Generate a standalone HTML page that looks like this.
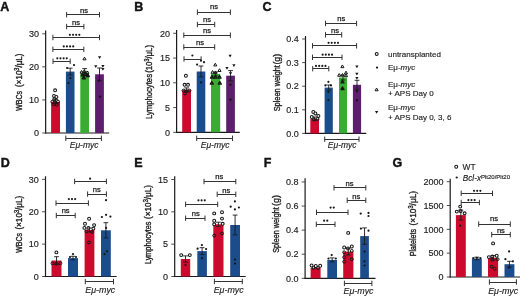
<!DOCTYPE html><html><head><meta charset="utf-8"><style>html,body{margin:0;padding:0;background:#fff;}svg{display:block;will-change:transform;}</style></head><body>
<svg width="520" height="297" viewBox="0 0 520 297" font-family='"Liberation Sans", sans-serif'><style>text{stroke:#1c1c1c;stroke-width:0.15px;paint-order:stroke;}</style>
<rect width="520" height="297" fill="#fff"/>
<text x="0.30" y="11.00" font-size="12.5" text-anchor="start" font-weight="bold" font-style="normal" fill="#111" style="stroke:#111;stroke-width:0.4px">A</text>
<line x1="45.65" y1="30.50" x2="45.65" y2="133.60" stroke="#1a1a1a" stroke-width="1.2"/>
<line x1="42.25" y1="133.00" x2="45.65" y2="133.00" stroke="#3a3a3a" stroke-width="0.9"/>
<text x="38.95" y="136.24" font-size="9" text-anchor="end" font-weight="normal" font-style="normal" fill="#1c1c1c" >0</text>
<line x1="42.25" y1="99.93" x2="45.65" y2="99.93" stroke="#3a3a3a" stroke-width="0.9"/>
<text x="38.95" y="103.17" font-size="9" text-anchor="end" font-weight="normal" font-style="normal" fill="#1c1c1c" >10</text>
<line x1="42.25" y1="66.86" x2="45.65" y2="66.86" stroke="#3a3a3a" stroke-width="0.9"/>
<text x="38.95" y="70.10" font-size="9" text-anchor="end" font-weight="normal" font-style="normal" fill="#1c1c1c" >20</text>
<line x1="42.25" y1="33.79" x2="45.65" y2="33.79" stroke="#3a3a3a" stroke-width="0.9"/>
<text x="38.95" y="37.03" font-size="9" text-anchor="end" font-weight="normal" font-style="normal" fill="#1c1c1c" >30</text>
<line x1="45.05" y1="133.00" x2="109.20" y2="133.00" stroke="#1a1a1a" stroke-width="1.2"/>
<rect x="51.10" y="101.70" width="8.90" height="31.30" fill="#cc0a2e"/>
<rect x="65.90" y="71.60" width="8.60" height="61.40" fill="#1b4d8d"/>
<rect x="80.30" y="71.40" width="8.70" height="61.60" fill="#3aab33"/>
<rect x="95.10" y="74.30" width="8.80" height="58.70" fill="#5c1e6d"/>
<circle cx="55.10" cy="90.30" r="1.45" fill="#fff" stroke="#151515" stroke-width="1.05"/>
<circle cx="54.00" cy="95.90" r="1.45" fill="#fff" stroke="#151515" stroke-width="1.05"/>
<circle cx="56.40" cy="96.90" r="1.45" fill="#fff" stroke="#151515" stroke-width="1.05"/>
<circle cx="54.20" cy="99.40" r="1.45" fill="#fff" stroke="#151515" stroke-width="1.05"/>
<circle cx="52.30" cy="101.80" r="1.45" fill="none" stroke="#151515" stroke-width="1.0"/>
<circle cx="55.20" cy="102.30" r="1.45" fill="none" stroke="#151515" stroke-width="1.0"/>
<circle cx="58.00" cy="101.60" r="1.45" fill="none" stroke="#151515" stroke-width="1.0"/>
<circle cx="53.60" cy="104.30" r="1.45" fill="none" stroke="#151515" stroke-width="1.0"/>
<circle cx="56.60" cy="104.80" r="1.45" fill="none" stroke="#151515" stroke-width="1.0"/>
<circle cx="74.00" cy="65.10" r="1.1" fill="#151515"/>
<circle cx="67.10" cy="68.00" r="1.1" fill="#151515"/>
<circle cx="70.30" cy="78.00" r="1.1" fill="#151515"/>
<circle cx="68.50" cy="83.00" r="1.1" fill="#151515"/>
<path d="M82.95,59.85 L86.05,59.85 L84.50,57.15 Z" fill="#fff" stroke="#151515" stroke-width="1.0" stroke-linejoin="round"/>
<path d="M80.05,73.15 L83.15,73.15 L81.60,70.45 Z" fill="#fff" stroke="#151515" stroke-width="1.0" stroke-linejoin="round"/>
<path d="M82.75,72.45 L85.85,72.45 L84.30,69.75 Z" fill="#fff" stroke="#151515" stroke-width="1.0" stroke-linejoin="round"/>
<path d="M85.65,73.65 L88.75,73.65 L87.20,70.95 Z" fill="#fff" stroke="#151515" stroke-width="1.0" stroke-linejoin="round"/>
<path d="M81.05,75.95 L84.15,75.95 L82.60,73.25 Z" fill="none" stroke="#151515" stroke-width="1.25" stroke-linejoin="round"/>
<path d="M84.05,75.45 L87.15,75.45 L85.60,72.75 Z" fill="none" stroke="#151515" stroke-width="1.25" stroke-linejoin="round"/>
<path d="M86.25,76.65 L89.35,76.65 L87.80,73.95 Z" fill="none" stroke="#151515" stroke-width="1.25" stroke-linejoin="round"/>
<path d="M82.25,78.75 L85.35,78.75 L83.80,76.05 Z" fill="none" stroke="#151515" stroke-width="1.25" stroke-linejoin="round"/>
<path d="M98.00,56.15 L101.20,56.15 L99.60,58.90 Z" fill="#151515"/>
<path d="M94.20,65.15 L97.40,65.15 L95.80,67.90 Z" fill="#151515"/>
<path d="M101.30,64.95 L104.50,64.95 L102.90,67.70 Z" fill="#151515"/>
<path d="M101.30,67.95 L104.50,67.95 L102.90,70.70 Z" fill="#151515"/>
<path d="M97.40,79.85 L100.60,79.85 L99.00,82.60 Z" fill="#151515"/>
<path d="M98.30,95.75 L101.50,95.75 L99.90,98.50 Z" fill="#151515"/>
<line x1="55.55" y1="103.80" x2="55.55" y2="99.60" stroke="#1a1a1a" stroke-width="0.9"/>
<line x1="53.15" y1="99.60" x2="57.95" y2="99.60" stroke="#1a1a1a" stroke-width="0.9"/>
<line x1="53.15" y1="103.80" x2="57.95" y2="103.80" stroke="#1a1a1a" stroke-width="0.8"/>
<line x1="70.20" y1="75.00" x2="70.20" y2="68.20" stroke="#1a1a1a" stroke-width="0.9"/>
<line x1="67.80" y1="68.20" x2="72.60" y2="68.20" stroke="#1a1a1a" stroke-width="0.9"/>
<line x1="67.80" y1="75.00" x2="72.60" y2="75.00" stroke="#1a1a1a" stroke-width="0.8"/>
<line x1="84.65" y1="74.20" x2="84.65" y2="68.60" stroke="#1a1a1a" stroke-width="0.9"/>
<line x1="82.25" y1="68.60" x2="87.05" y2="68.60" stroke="#1a1a1a" stroke-width="0.9"/>
<line x1="82.25" y1="74.20" x2="87.05" y2="74.20" stroke="#1a1a1a" stroke-width="0.8"/>
<line x1="99.50" y1="80.60" x2="99.50" y2="68.00" stroke="#1a1a1a" stroke-width="0.9"/>
<line x1="97.10" y1="68.00" x2="101.90" y2="68.00" stroke="#1a1a1a" stroke-width="0.9"/>
<line x1="97.10" y1="80.60" x2="101.90" y2="80.60" stroke="#1a1a1a" stroke-width="0.8"/>
<line x1="66.60" y1="14.50" x2="99.50" y2="14.50" stroke="#333333" stroke-width="1.0"/>
<line x1="66.60" y1="12.00" x2="66.60" y2="17.40" stroke="#333333" stroke-width="1.0"/>
<line x1="99.50" y1="12.00" x2="99.50" y2="17.40" stroke="#333333" stroke-width="1.0"/>
<text x="84.00" y="12.70" font-size="7.2" text-anchor="middle" font-weight="normal" font-style="normal" fill="#1c1c1c" textLength="8.0" lengthAdjust="spacingAndGlyphs" style="stroke-width:0.25px">ns</text>
<line x1="66.60" y1="26.50" x2="83.90" y2="26.50" stroke="#333333" stroke-width="1.0"/>
<line x1="66.60" y1="23.90" x2="66.60" y2="29.30" stroke="#333333" stroke-width="1.0"/>
<line x1="83.90" y1="23.90" x2="83.90" y2="29.30" stroke="#333333" stroke-width="1.0"/>
<text x="76.00" y="24.80" font-size="7.2" text-anchor="middle" font-weight="normal" font-style="normal" fill="#1c1c1c" textLength="8.0" lengthAdjust="spacingAndGlyphs" style="stroke-width:0.25px">ns</text>
<line x1="52.90" y1="37.50" x2="99.50" y2="37.50" stroke="#333333" stroke-width="1.0"/>
<line x1="52.90" y1="34.80" x2="52.90" y2="40.20" stroke="#333333" stroke-width="1.0"/>
<line x1="99.50" y1="34.80" x2="99.50" y2="40.20" stroke="#333333" stroke-width="1.0"/>
<circle cx="69.88" cy="34.80" r="1.08" fill="#1c1c1c"/>
<circle cx="73.03" cy="34.80" r="1.08" fill="#1c1c1c"/>
<circle cx="76.17" cy="34.80" r="1.08" fill="#1c1c1c"/>
<circle cx="79.33" cy="34.80" r="1.08" fill="#1c1c1c"/>
<line x1="52.90" y1="49.50" x2="83.80" y2="49.50" stroke="#333333" stroke-width="1.0"/>
<line x1="52.90" y1="46.60" x2="52.90" y2="52.00" stroke="#333333" stroke-width="1.0"/>
<line x1="83.80" y1="46.60" x2="83.80" y2="52.00" stroke="#333333" stroke-width="1.0"/>
<circle cx="63.77" cy="46.40" r="1.08" fill="#1c1c1c"/>
<circle cx="66.92" cy="46.40" r="1.08" fill="#1c1c1c"/>
<circle cx="70.08" cy="46.40" r="1.08" fill="#1c1c1c"/>
<circle cx="73.22" cy="46.40" r="1.08" fill="#1c1c1c"/>
<line x1="53.00" y1="61.50" x2="70.20" y2="61.50" stroke="#333333" stroke-width="1.0"/>
<line x1="53.00" y1="58.60" x2="53.00" y2="64.00" stroke="#333333" stroke-width="1.0"/>
<line x1="70.20" y1="58.60" x2="70.20" y2="64.00" stroke="#333333" stroke-width="1.0"/>
<circle cx="57.32" cy="58.30" r="1.08" fill="#1c1c1c"/>
<circle cx="60.47" cy="58.30" r="1.08" fill="#1c1c1c"/>
<circle cx="63.62" cy="58.30" r="1.08" fill="#1c1c1c"/>
<circle cx="66.77" cy="58.30" r="1.08" fill="#1c1c1c"/>
<line x1="65.80" y1="138.50" x2="101.40" y2="138.50" stroke="#333333" stroke-width="1.0"/>
<line x1="65.80" y1="135.60" x2="65.80" y2="141.00" stroke="#333333" stroke-width="1.0"/>
<line x1="101.40" y1="135.60" x2="101.40" y2="141.00" stroke="#333333" stroke-width="1.0"/>
<text x="84.10" y="148.00" font-size="8.5" text-anchor="middle" font-weight="normal" font-style="italic" fill="#1c1c1c" >E<tspan>μ</tspan>-myc</text>
<text x="0" y="0" font-size="9.2" font-weight="normal" style="stroke-width:0.35px" fill="#1c1c1c" textLength="19.70" lengthAdjust="spacingAndGlyphs" transform="translate(22.40,110.80) rotate(-90)">WBCs</text>
<text x="0" y="0" font-size="9.2" font-weight="normal" style="stroke-width:0.35px" fill="#1c1c1c" textLength="33.30" lengthAdjust="spacingAndGlyphs" transform="translate(22.40,86.90) rotate(-90)">(×10<tspan dy="-3.2" font-size="6.4">3</tspan><tspan dy="3.2">/μL)</tspan></text>
<text x="134.30" y="11.00" font-size="12.5" text-anchor="start" font-weight="bold" font-style="normal" fill="#111" style="stroke:#111;stroke-width:0.4px">B</text>
<line x1="176.60" y1="30.00" x2="176.60" y2="132.90" stroke="#1a1a1a" stroke-width="1.2"/>
<line x1="173.20" y1="132.30" x2="176.60" y2="132.30" stroke="#3a3a3a" stroke-width="0.9"/>
<text x="169.90" y="135.54" font-size="9" text-anchor="end" font-weight="normal" font-style="normal" fill="#1c1c1c" >0</text>
<line x1="173.20" y1="107.55" x2="176.60" y2="107.55" stroke="#3a3a3a" stroke-width="0.9"/>
<text x="169.90" y="110.79" font-size="9" text-anchor="end" font-weight="normal" font-style="normal" fill="#1c1c1c" >5</text>
<line x1="173.20" y1="82.80" x2="176.60" y2="82.80" stroke="#3a3a3a" stroke-width="0.9"/>
<text x="169.90" y="86.04" font-size="9" text-anchor="end" font-weight="normal" font-style="normal" fill="#1c1c1c" >10</text>
<line x1="173.20" y1="58.05" x2="176.60" y2="58.05" stroke="#3a3a3a" stroke-width="0.9"/>
<text x="169.90" y="61.29" font-size="9" text-anchor="end" font-weight="normal" font-style="normal" fill="#1c1c1c" >15</text>
<line x1="173.20" y1="33.30" x2="176.60" y2="33.30" stroke="#3a3a3a" stroke-width="0.9"/>
<text x="169.90" y="36.54" font-size="9" text-anchor="end" font-weight="normal" font-style="normal" fill="#1c1c1c" >20</text>
<line x1="176.00" y1="132.30" x2="239.80" y2="132.30" stroke="#1a1a1a" stroke-width="1.2"/>
<rect x="182.20" y="89.70" width="8.80" height="42.60" fill="#cc0a2e"/>
<rect x="196.70" y="71.50" width="8.60" height="60.80" fill="#1b4d8d"/>
<rect x="211.00" y="73.90" width="9.20" height="58.40" fill="#3aab33"/>
<rect x="226.20" y="75.70" width="8.70" height="56.60" fill="#5c1e6d"/>
<circle cx="185.90" cy="75.70" r="1.45" fill="#fff" stroke="#151515" stroke-width="1.05"/>
<circle cx="184.60" cy="84.80" r="1.45" fill="#fff" stroke="#151515" stroke-width="1.05"/>
<circle cx="188.00" cy="84.80" r="1.45" fill="#fff" stroke="#151515" stroke-width="1.05"/>
<circle cx="183.50" cy="90.60" r="1.45" fill="none" stroke="#151515" stroke-width="1.0"/>
<circle cx="186.50" cy="91.20" r="1.45" fill="none" stroke="#151515" stroke-width="1.0"/>
<circle cx="189.50" cy="90.60" r="1.45" fill="none" stroke="#151515" stroke-width="1.0"/>
<circle cx="185.00" cy="93.50" r="1.45" fill="none" stroke="#151515" stroke-width="1.0"/>
<circle cx="197.10" cy="64.60" r="1.1" fill="#151515"/>
<circle cx="204.00" cy="62.20" r="1.1" fill="#151515"/>
<circle cx="201.00" cy="60.60" r="1.1" fill="#151515"/>
<circle cx="201.00" cy="82.40" r="1.1" fill="#151515"/>
<path d="M213.75,65.95 L216.85,65.95 L215.30,63.25 Z" fill="#fff" stroke="#151515" stroke-width="1.0" stroke-linejoin="round"/>
<path d="M210.95,73.25 L214.05,73.25 L212.50,70.55 Z" fill="#fff" stroke="#151515" stroke-width="1.0" stroke-linejoin="round"/>
<path d="M213.95,73.65 L217.05,73.65 L215.50,70.95 Z" fill="#fff" stroke="#151515" stroke-width="1.0" stroke-linejoin="round"/>
<path d="M217.95,71.45 L221.05,71.45 L219.50,68.75 Z" fill="#fff" stroke="#151515" stroke-width="1.0" stroke-linejoin="round"/>
<path d="M210.45,78.15 L213.55,78.15 L212.00,75.45 Z" fill="none" stroke="#151515" stroke-width="1.25" stroke-linejoin="round"/>
<path d="M213.95,78.15 L217.05,78.15 L215.50,75.45 Z" fill="none" stroke="#151515" stroke-width="1.25" stroke-linejoin="round"/>
<path d="M217.95,78.15 L221.05,78.15 L219.50,75.45 Z" fill="none" stroke="#151515" stroke-width="1.25" stroke-linejoin="round"/>
<path d="M210.25,84.15 L213.35,84.15 L211.80,81.45 Z" fill="none" stroke="#151515" stroke-width="1.25" stroke-linejoin="round"/>
<path d="M218.25,84.15 L221.35,84.15 L219.80,81.45 Z" fill="none" stroke="#151515" stroke-width="1.25" stroke-linejoin="round"/>
<path d="M228.50,54.65 L231.70,54.65 L230.10,57.40 Z" fill="#151515"/>
<path d="M232.30,64.25 L235.50,64.25 L233.90,67.00 Z" fill="#151515"/>
<path d="M225.40,67.05 L228.60,67.05 L227.00,69.80 Z" fill="#151515"/>
<path d="M228.90,72.15 L232.10,72.15 L230.50,74.90 Z" fill="#151515"/>
<path d="M228.90,83.65 L232.10,83.65 L230.50,86.40 Z" fill="#151515"/>
<path d="M228.90,98.85 L232.10,98.85 L230.50,101.60 Z" fill="#151515"/>
<line x1="186.60" y1="91.50" x2="186.60" y2="87.90" stroke="#1a1a1a" stroke-width="0.9"/>
<line x1="184.20" y1="87.90" x2="189.00" y2="87.90" stroke="#1a1a1a" stroke-width="0.9"/>
<line x1="184.20" y1="91.50" x2="189.00" y2="91.50" stroke="#1a1a1a" stroke-width="0.8"/>
<line x1="201.00" y1="77.00" x2="201.00" y2="66.00" stroke="#1a1a1a" stroke-width="0.9"/>
<line x1="198.60" y1="66.00" x2="203.40" y2="66.00" stroke="#1a1a1a" stroke-width="0.9"/>
<line x1="198.60" y1="77.00" x2="203.40" y2="77.00" stroke="#1a1a1a" stroke-width="0.8"/>
<line x1="215.60" y1="75.80" x2="215.60" y2="72.00" stroke="#1a1a1a" stroke-width="0.9"/>
<line x1="213.20" y1="72.00" x2="218.00" y2="72.00" stroke="#1a1a1a" stroke-width="0.9"/>
<line x1="213.20" y1="75.80" x2="218.00" y2="75.80" stroke="#1a1a1a" stroke-width="0.8"/>
<line x1="230.55" y1="80.80" x2="230.55" y2="70.60" stroke="#1a1a1a" stroke-width="0.9"/>
<line x1="228.15" y1="70.60" x2="232.95" y2="70.60" stroke="#1a1a1a" stroke-width="0.9"/>
<line x1="228.15" y1="80.80" x2="232.95" y2="80.80" stroke="#1a1a1a" stroke-width="0.8"/>
<line x1="197.40" y1="12.50" x2="230.40" y2="12.50" stroke="#333333" stroke-width="1.0"/>
<line x1="197.40" y1="9.50" x2="197.40" y2="14.90" stroke="#333333" stroke-width="1.0"/>
<line x1="230.40" y1="9.50" x2="230.40" y2="14.90" stroke="#333333" stroke-width="1.0"/>
<text x="214.00" y="9.20" font-size="7.2" text-anchor="middle" font-weight="normal" font-style="normal" fill="#1c1c1c" textLength="8.0" lengthAdjust="spacingAndGlyphs" style="stroke-width:0.25px">ns</text>
<line x1="197.40" y1="24.50" x2="214.70" y2="24.50" stroke="#333333" stroke-width="1.0"/>
<line x1="197.40" y1="21.80" x2="197.40" y2="27.20" stroke="#333333" stroke-width="1.0"/>
<line x1="214.70" y1="21.80" x2="214.70" y2="27.20" stroke="#333333" stroke-width="1.0"/>
<text x="207.00" y="22.10" font-size="7.2" text-anchor="middle" font-weight="normal" font-style="normal" fill="#1c1c1c" textLength="8.0" lengthAdjust="spacingAndGlyphs" style="stroke-width:0.25px">ns</text>
<line x1="183.80" y1="35.50" x2="230.40" y2="35.50" stroke="#333333" stroke-width="1.0"/>
<line x1="183.80" y1="32.50" x2="183.80" y2="37.90" stroke="#333333" stroke-width="1.0"/>
<line x1="230.40" y1="32.50" x2="230.40" y2="37.90" stroke="#333333" stroke-width="1.0"/>
<text x="207.10" y="33.40" font-size="7.2" text-anchor="middle" font-weight="normal" font-style="normal" fill="#1c1c1c" textLength="8.0" lengthAdjust="spacingAndGlyphs" style="stroke-width:0.25px">ns</text>
<line x1="183.80" y1="47.50" x2="214.70" y2="47.50" stroke="#333333" stroke-width="1.0"/>
<line x1="183.80" y1="44.30" x2="183.80" y2="49.70" stroke="#333333" stroke-width="1.0"/>
<line x1="214.70" y1="44.30" x2="214.70" y2="49.70" stroke="#333333" stroke-width="1.0"/>
<text x="200.00" y="44.50" font-size="7.2" text-anchor="middle" font-weight="normal" font-style="normal" fill="#1c1c1c" textLength="8.0" lengthAdjust="spacingAndGlyphs" style="stroke-width:0.25px">ns</text>
<line x1="184.00" y1="59.50" x2="201.10" y2="59.50" stroke="#333333" stroke-width="1.0"/>
<line x1="184.00" y1="56.30" x2="184.00" y2="61.70" stroke="#333333" stroke-width="1.0"/>
<line x1="201.10" y1="56.30" x2="201.10" y2="61.70" stroke="#333333" stroke-width="1.0"/>
<circle cx="192.40" cy="55.50" r="1.08" fill="#1c1c1c"/>
<line x1="196.70" y1="138.50" x2="232.50" y2="138.50" stroke="#333333" stroke-width="1.0"/>
<line x1="196.70" y1="135.60" x2="196.70" y2="141.00" stroke="#333333" stroke-width="1.0"/>
<line x1="232.50" y1="135.60" x2="232.50" y2="141.00" stroke="#333333" stroke-width="1.0"/>
<text x="215.10" y="148.00" font-size="8.5" text-anchor="middle" font-weight="normal" font-style="italic" fill="#1c1c1c" >E<tspan>μ</tspan>-myc</text>
<text x="0" y="0" font-size="9.2" font-weight="normal" style="stroke-width:0.35px" fill="#1c1c1c" textLength="45.10" lengthAdjust="spacingAndGlyphs" transform="translate(152.20,119.10) rotate(-90)">Lymphocytes</text>
<text x="0" y="0" font-size="9.2" font-weight="normal" style="stroke-width:0.35px" fill="#1c1c1c" textLength="27.80" lengthAdjust="spacingAndGlyphs" transform="translate(152.20,72.80) rotate(-90)">(10<tspan dy="-3.2" font-size="6.4">3</tspan><tspan dy="3.2">/μL)</tspan></text>
<text x="262.60" y="11.20" font-size="12.5" text-anchor="start" font-weight="bold" font-style="normal" fill="#111" style="stroke:#111;stroke-width:0.4px">C</text>
<line x1="305.50" y1="36.00" x2="305.50" y2="134.00" stroke="#1a1a1a" stroke-width="1.2"/>
<line x1="302.10" y1="133.40" x2="305.50" y2="133.40" stroke="#3a3a3a" stroke-width="0.9"/>
<text x="298.80" y="136.64" font-size="9" text-anchor="end" font-weight="normal" font-style="normal" fill="#1c1c1c" >0.0</text>
<line x1="302.10" y1="109.80" x2="305.50" y2="109.80" stroke="#3a3a3a" stroke-width="0.9"/>
<text x="298.80" y="113.04" font-size="9" text-anchor="end" font-weight="normal" font-style="normal" fill="#1c1c1c" >0.1</text>
<line x1="302.10" y1="86.20" x2="305.50" y2="86.20" stroke="#3a3a3a" stroke-width="0.9"/>
<text x="298.80" y="89.44" font-size="9" text-anchor="end" font-weight="normal" font-style="normal" fill="#1c1c1c" >0.2</text>
<line x1="302.10" y1="62.60" x2="305.50" y2="62.60" stroke="#3a3a3a" stroke-width="0.9"/>
<text x="298.80" y="65.84" font-size="9" text-anchor="end" font-weight="normal" font-style="normal" fill="#1c1c1c" >0.3</text>
<line x1="302.10" y1="39.00" x2="305.50" y2="39.00" stroke="#3a3a3a" stroke-width="0.9"/>
<text x="298.80" y="42.24" font-size="9" text-anchor="end" font-weight="normal" font-style="normal" fill="#1c1c1c" >0.4</text>
<line x1="304.90" y1="133.40" x2="366.30" y2="133.40" stroke="#1a1a1a" stroke-width="1.2"/>
<rect x="310.30" y="118.80" width="8.70" height="14.60" fill="#cc0a2e"/>
<rect x="324.60" y="87.60" width="8.20" height="45.80" fill="#1b4d8d"/>
<rect x="339.00" y="77.50" width="8.00" height="55.90" fill="#3aab33"/>
<rect x="352.90" y="84.80" width="8.20" height="48.60" fill="#5c1e6d"/>
<circle cx="313.30" cy="112.00" r="1.45" fill="#fff" stroke="#151515" stroke-width="1.05"/>
<circle cx="315.40" cy="113.40" r="1.45" fill="#fff" stroke="#151515" stroke-width="1.05"/>
<circle cx="318.40" cy="115.90" r="1.45" fill="#fff" stroke="#151515" stroke-width="1.05"/>
<circle cx="311.80" cy="117.00" r="1.45" fill="#fff" stroke="#151515" stroke-width="1.05"/>
<circle cx="314.00" cy="119.50" r="1.45" fill="none" stroke="#151515" stroke-width="1.0"/>
<circle cx="317.50" cy="119.00" r="1.45" fill="none" stroke="#151515" stroke-width="1.0"/>
<circle cx="328.40" cy="81.80" r="1.1" fill="#151515"/>
<circle cx="325.40" cy="85.40" r="1.1" fill="#151515"/>
<circle cx="331.00" cy="85.40" r="1.1" fill="#151515"/>
<circle cx="328.40" cy="92.00" r="1.1" fill="#151515"/>
<circle cx="328.40" cy="100.00" r="1.1" fill="#151515"/>
<path d="M340.85,67.65 L343.95,67.65 L342.40,64.95 Z" fill="#fff" stroke="#151515" stroke-width="1.0" stroke-linejoin="round"/>
<path d="M344.45,73.85 L347.55,73.85 L346.00,71.15 Z" fill="#fff" stroke="#151515" stroke-width="1.0" stroke-linejoin="round"/>
<path d="M337.65,76.25 L340.75,76.25 L339.20,73.55 Z" fill="#fff" stroke="#151515" stroke-width="1.0" stroke-linejoin="round"/>
<path d="M340.95,76.15 L344.05,76.15 L342.50,73.45 Z" fill="#fff" stroke="#151515" stroke-width="1.0" stroke-linejoin="round"/>
<path d="M344.45,76.65 L347.55,76.65 L346.00,73.95 Z" fill="#fff" stroke="#151515" stroke-width="1.0" stroke-linejoin="round"/>
<path d="M340.95,82.95 L344.05,82.95 L342.50,80.25 Z" fill="none" stroke="#151515" stroke-width="1.25" stroke-linejoin="round"/>
<path d="M340.95,89.55 L344.05,89.55 L342.50,86.85 Z" fill="none" stroke="#151515" stroke-width="1.25" stroke-linejoin="round"/>
<path d="M355.30,65.45 L358.50,65.45 L356.90,68.20 Z" fill="#151515"/>
<path d="M355.30,72.75 L358.50,72.75 L356.90,75.50 Z" fill="#151515"/>
<path d="M355.30,76.95 L358.50,76.95 L356.90,79.70 Z" fill="#151515"/>
<path d="M355.30,90.35 L358.50,90.35 L356.90,93.10 Z" fill="#151515"/>
<path d="M355.30,99.35 L358.50,99.35 L356.90,102.10 Z" fill="#151515"/>
<line x1="314.65" y1="120.60" x2="314.65" y2="117.00" stroke="#1a1a1a" stroke-width="0.9"/>
<line x1="312.25" y1="117.00" x2="317.05" y2="117.00" stroke="#1a1a1a" stroke-width="0.9"/>
<line x1="312.25" y1="120.60" x2="317.05" y2="120.60" stroke="#1a1a1a" stroke-width="0.8"/>
<line x1="328.70" y1="90.20" x2="328.70" y2="85.00" stroke="#1a1a1a" stroke-width="0.9"/>
<line x1="326.30" y1="85.00" x2="331.10" y2="85.00" stroke="#1a1a1a" stroke-width="0.9"/>
<line x1="326.30" y1="90.20" x2="331.10" y2="90.20" stroke="#1a1a1a" stroke-width="0.8"/>
<line x1="343.00" y1="80.00" x2="343.00" y2="75.00" stroke="#1a1a1a" stroke-width="0.9"/>
<line x1="340.60" y1="75.00" x2="345.40" y2="75.00" stroke="#1a1a1a" stroke-width="0.9"/>
<line x1="340.60" y1="80.00" x2="345.40" y2="80.00" stroke="#1a1a1a" stroke-width="0.8"/>
<line x1="357.00" y1="89.30" x2="357.00" y2="80.30" stroke="#1a1a1a" stroke-width="0.9"/>
<line x1="354.60" y1="80.30" x2="359.40" y2="80.30" stroke="#1a1a1a" stroke-width="0.9"/>
<line x1="354.60" y1="89.30" x2="359.40" y2="89.30" stroke="#1a1a1a" stroke-width="0.8"/>
<line x1="325.50" y1="23.50" x2="356.60" y2="23.50" stroke="#333333" stroke-width="1.0"/>
<line x1="325.50" y1="20.80" x2="325.50" y2="26.20" stroke="#333333" stroke-width="1.0"/>
<line x1="356.60" y1="20.80" x2="356.60" y2="26.20" stroke="#333333" stroke-width="1.0"/>
<text x="341.25" y="21.00" font-size="7.2" text-anchor="middle" font-weight="normal" font-style="normal" fill="#1c1c1c" textLength="8.0" lengthAdjust="spacingAndGlyphs" style="stroke-width:0.25px">ns</text>
<line x1="325.50" y1="34.50" x2="341.70" y2="34.50" stroke="#333333" stroke-width="1.0"/>
<line x1="325.50" y1="32.10" x2="325.50" y2="37.50" stroke="#333333" stroke-width="1.0"/>
<line x1="341.70" y1="32.10" x2="341.70" y2="37.50" stroke="#333333" stroke-width="1.0"/>
<text x="335.05" y="32.90" font-size="7.2" text-anchor="middle" font-weight="normal" font-style="normal" fill="#1c1c1c" textLength="8.0" lengthAdjust="spacingAndGlyphs" style="stroke-width:0.25px">ns</text>
<line x1="312.50" y1="45.50" x2="356.60" y2="45.50" stroke="#333333" stroke-width="1.0"/>
<line x1="312.50" y1="43.10" x2="312.50" y2="48.50" stroke="#333333" stroke-width="1.0"/>
<line x1="356.60" y1="43.10" x2="356.60" y2="48.50" stroke="#333333" stroke-width="1.0"/>
<circle cx="328.57" cy="42.80" r="1.08" fill="#1c1c1c"/>
<circle cx="331.72" cy="42.80" r="1.08" fill="#1c1c1c"/>
<circle cx="334.88" cy="42.80" r="1.08" fill="#1c1c1c"/>
<circle cx="338.02" cy="42.80" r="1.08" fill="#1c1c1c"/>
<line x1="312.50" y1="57.50" x2="342.00" y2="57.50" stroke="#333333" stroke-width="1.0"/>
<line x1="312.50" y1="54.60" x2="312.50" y2="60.00" stroke="#333333" stroke-width="1.0"/>
<line x1="342.00" y1="54.60" x2="342.00" y2="60.00" stroke="#333333" stroke-width="1.0"/>
<circle cx="322.62" cy="54.70" r="1.08" fill="#1c1c1c"/>
<circle cx="325.77" cy="54.70" r="1.08" fill="#1c1c1c"/>
<circle cx="328.93" cy="54.70" r="1.08" fill="#1c1c1c"/>
<circle cx="332.07" cy="54.70" r="1.08" fill="#1c1c1c"/>
<line x1="312.70" y1="68.50" x2="328.80" y2="68.50" stroke="#333333" stroke-width="1.0"/>
<line x1="312.70" y1="66.00" x2="312.70" y2="71.40" stroke="#333333" stroke-width="1.0"/>
<line x1="328.80" y1="66.00" x2="328.80" y2="71.40" stroke="#333333" stroke-width="1.0"/>
<circle cx="316.02" cy="65.90" r="1.08" fill="#1c1c1c"/>
<circle cx="319.17" cy="65.90" r="1.08" fill="#1c1c1c"/>
<circle cx="322.32" cy="65.90" r="1.08" fill="#1c1c1c"/>
<circle cx="325.47" cy="65.90" r="1.08" fill="#1c1c1c"/>
<line x1="324.70" y1="139.50" x2="359.00" y2="139.50" stroke="#333333" stroke-width="1.0"/>
<line x1="324.70" y1="136.50" x2="324.70" y2="141.90" stroke="#333333" stroke-width="1.0"/>
<line x1="359.00" y1="136.50" x2="359.00" y2="141.90" stroke="#333333" stroke-width="1.0"/>
<text x="342.20" y="148.00" font-size="8.5" text-anchor="middle" font-weight="normal" font-style="italic" fill="#1c1c1c" >E<tspan>μ</tspan>-myc</text>
<text x="0" y="0" font-size="9.2" font-weight="normal" style="stroke-width:0.35px" fill="#1c1c1c" textLength="46.20" lengthAdjust="spacingAndGlyphs" transform="translate(280.00,111.30) rotate(-90)">Spleen weight</text>
<text x="0" y="0" font-size="9.2" font-weight="normal" style="stroke-width:0.35px" fill="#1c1c1c" textLength="10.90" lengthAdjust="spacingAndGlyphs" transform="translate(280.00,64.60) rotate(-90)">(g)</text>
<text x="0.80" y="167.00" font-size="12.5" text-anchor="start" font-weight="bold" font-style="normal" fill="#111" style="stroke:#111;stroke-width:0.4px">D</text>
<line x1="45.50" y1="176.30" x2="45.50" y2="277.10" stroke="#1a1a1a" stroke-width="1.2"/>
<line x1="42.10" y1="276.50" x2="45.50" y2="276.50" stroke="#3a3a3a" stroke-width="0.9"/>
<text x="38.80" y="279.74" font-size="9" text-anchor="end" font-weight="normal" font-style="normal" fill="#1c1c1c" >0</text>
<line x1="42.10" y1="244.13" x2="45.50" y2="244.13" stroke="#3a3a3a" stroke-width="0.9"/>
<text x="38.80" y="247.37" font-size="9" text-anchor="end" font-weight="normal" font-style="normal" fill="#1c1c1c" >10</text>
<line x1="42.10" y1="211.76" x2="45.50" y2="211.76" stroke="#3a3a3a" stroke-width="0.9"/>
<text x="38.80" y="215.00" font-size="9" text-anchor="end" font-weight="normal" font-style="normal" fill="#1c1c1c" >20</text>
<line x1="42.10" y1="179.39" x2="45.50" y2="179.39" stroke="#3a3a3a" stroke-width="0.9"/>
<text x="38.80" y="182.63" font-size="9" text-anchor="end" font-weight="normal" font-style="normal" fill="#1c1c1c" >30</text>
<line x1="44.90" y1="276.50" x2="116.60" y2="276.50" stroke="#1a1a1a" stroke-width="1.2"/>
<rect x="51.50" y="260.50" width="10.00" height="16.00" fill="#cc0a2e"/>
<rect x="68.00" y="258.10" width="10.00" height="18.40" fill="#1b4d8d"/>
<rect x="84.60" y="230.00" width="9.80" height="46.50" fill="#cc0a2e"/>
<rect x="101.00" y="230.30" width="9.80" height="46.20" fill="#1b4d8d"/>
<circle cx="56.40" cy="252.40" r="1.45" fill="#fff" stroke="#151515" stroke-width="1.05"/>
<circle cx="52.50" cy="263.30" r="1.45" fill="none" stroke="#151515" stroke-width="1.0"/>
<circle cx="56.40" cy="263.80" r="1.45" fill="none" stroke="#151515" stroke-width="1.0"/>
<circle cx="60.40" cy="263.30" r="1.45" fill="none" stroke="#151515" stroke-width="1.0"/>
<circle cx="73.00" cy="254.10" r="1.1" fill="#151515"/>
<circle cx="70.00" cy="257.00" r="1.1" fill="#151515"/>
<circle cx="76.00" cy="257.00" r="1.1" fill="#151515"/>
<circle cx="89.10" cy="218.70" r="1.45" fill="#fff" stroke="#151515" stroke-width="1.05"/>
<circle cx="85.00" cy="223.70" r="1.45" fill="#fff" stroke="#151515" stroke-width="1.05"/>
<circle cx="94.10" cy="225.10" r="1.45" fill="#fff" stroke="#151515" stroke-width="1.05"/>
<circle cx="84.40" cy="227.90" r="1.45" fill="#fff" stroke="#151515" stroke-width="1.05"/>
<circle cx="88.40" cy="227.90" r="1.45" fill="#fff" stroke="#151515" stroke-width="1.05"/>
<circle cx="93.40" cy="228.60" r="1.45" fill="#fff" stroke="#151515" stroke-width="1.05"/>
<circle cx="86.50" cy="231.50" r="1.45" fill="none" stroke="#151515" stroke-width="1.0"/>
<circle cx="92.00" cy="232.00" r="1.45" fill="none" stroke="#151515" stroke-width="1.0"/>
<circle cx="89.00" cy="242.50" r="1.45" fill="none" stroke="#151515" stroke-width="1.0"/>
<circle cx="101.90" cy="217.00" r="1.1" fill="#151515"/>
<circle cx="106.10" cy="214.80" r="1.1" fill="#151515"/>
<circle cx="110.40" cy="216.60" r="1.1" fill="#151515"/>
<circle cx="106.10" cy="227.90" r="1.1" fill="#151515"/>
<circle cx="104.50" cy="254.10" r="1.1" fill="#151515"/>
<circle cx="107.00" cy="251.30" r="1.1" fill="#151515"/>
<circle cx="106.00" cy="200.20" r="1.1" fill="#151515"/>
<line x1="56.50" y1="264.30" x2="56.50" y2="256.70" stroke="#1a1a1a" stroke-width="0.9"/>
<line x1="54.10" y1="256.70" x2="58.90" y2="256.70" stroke="#1a1a1a" stroke-width="0.9"/>
<line x1="54.10" y1="264.30" x2="58.90" y2="264.30" stroke="#1a1a1a" stroke-width="0.8"/>
<line x1="73.00" y1="259.90" x2="73.00" y2="256.30" stroke="#1a1a1a" stroke-width="0.9"/>
<line x1="70.60" y1="256.30" x2="75.40" y2="256.30" stroke="#1a1a1a" stroke-width="0.9"/>
<line x1="70.60" y1="259.90" x2="75.40" y2="259.90" stroke="#1a1a1a" stroke-width="0.8"/>
<line x1="89.50" y1="232.00" x2="89.50" y2="228.00" stroke="#1a1a1a" stroke-width="0.9"/>
<line x1="87.10" y1="228.00" x2="91.90" y2="228.00" stroke="#1a1a1a" stroke-width="0.9"/>
<line x1="87.10" y1="232.00" x2="91.90" y2="232.00" stroke="#1a1a1a" stroke-width="0.8"/>
<line x1="105.90" y1="237.90" x2="105.90" y2="222.70" stroke="#1a1a1a" stroke-width="0.9"/>
<line x1="103.50" y1="222.70" x2="108.30" y2="222.70" stroke="#1a1a1a" stroke-width="0.9"/>
<line x1="103.50" y1="237.90" x2="108.30" y2="237.90" stroke="#1a1a1a" stroke-width="0.8"/>
<line x1="74.60" y1="181.50" x2="106.40" y2="181.50" stroke="#333333" stroke-width="1.0"/>
<line x1="74.60" y1="178.70" x2="74.60" y2="184.10" stroke="#333333" stroke-width="1.0"/>
<line x1="106.40" y1="178.70" x2="106.40" y2="184.10" stroke="#333333" stroke-width="1.0"/>
<circle cx="90.10" cy="178.70" r="1.08" fill="#1c1c1c"/>
<line x1="87.60" y1="194.50" x2="106.40" y2="194.50" stroke="#333333" stroke-width="1.0"/>
<line x1="87.60" y1="191.40" x2="87.60" y2="196.80" stroke="#333333" stroke-width="1.0"/>
<line x1="106.40" y1="191.40" x2="106.40" y2="196.80" stroke="#333333" stroke-width="1.0"/>
<text x="96.75" y="191.50" font-size="7.2" text-anchor="middle" font-weight="normal" font-style="normal" fill="#1c1c1c" textLength="8.0" lengthAdjust="spacingAndGlyphs" style="stroke-width:0.25px">ns</text>
<line x1="56.00" y1="203.50" x2="88.40" y2="203.50" stroke="#333333" stroke-width="1.0"/>
<line x1="56.00" y1="200.40" x2="56.00" y2="205.80" stroke="#333333" stroke-width="1.0"/>
<line x1="88.40" y1="200.40" x2="88.40" y2="205.80" stroke="#333333" stroke-width="1.0"/>
<circle cx="68.85" cy="199.10" r="1.08" fill="#1c1c1c"/>
<circle cx="72.00" cy="199.10" r="1.08" fill="#1c1c1c"/>
<circle cx="75.15" cy="199.10" r="1.08" fill="#1c1c1c"/>
<line x1="56.30" y1="215.50" x2="75.20" y2="215.50" stroke="#333333" stroke-width="1.0"/>
<line x1="56.30" y1="212.80" x2="56.30" y2="218.20" stroke="#333333" stroke-width="1.0"/>
<line x1="75.20" y1="212.80" x2="75.20" y2="218.20" stroke="#333333" stroke-width="1.0"/>
<text x="65.65" y="213.10" font-size="7.2" text-anchor="middle" font-weight="normal" font-style="normal" fill="#1c1c1c" textLength="8.0" lengthAdjust="spacingAndGlyphs" style="stroke-width:0.25px">ns</text>
<line x1="85.30" y1="281.50" x2="113.50" y2="281.50" stroke="#333333" stroke-width="1.0"/>
<line x1="85.30" y1="278.90" x2="85.30" y2="284.30" stroke="#333333" stroke-width="1.0"/>
<line x1="113.50" y1="278.90" x2="113.50" y2="284.30" stroke="#333333" stroke-width="1.0"/>
<text x="100.30" y="292.70" font-size="8.9" text-anchor="middle" font-weight="normal" font-style="italic" fill="#1c1c1c" >E<tspan>μ</tspan>-myc</text>
<text x="0" y="0" font-size="9.2" font-weight="normal" style="stroke-width:0.35px" fill="#1c1c1c" textLength="19.70" lengthAdjust="spacingAndGlyphs" transform="translate(22.40,252.80) rotate(-90)">WBCs</text>
<text x="0" y="0" font-size="9.2" font-weight="normal" style="stroke-width:0.35px" fill="#1c1c1c" textLength="33.90" lengthAdjust="spacingAndGlyphs" transform="translate(22.40,229.60) rotate(-90)">(×10<tspan dy="-3.2" font-size="6.4">3</tspan><tspan dy="3.2">/μL)</tspan></text>
<text x="134.20" y="167.00" font-size="12.5" text-anchor="start" font-weight="bold" font-style="normal" fill="#111" style="stroke:#111;stroke-width:0.4px">E</text>
<line x1="174.70" y1="176.30" x2="174.70" y2="277.10" stroke="#1a1a1a" stroke-width="1.2"/>
<line x1="171.30" y1="276.50" x2="174.70" y2="276.50" stroke="#3a3a3a" stroke-width="0.9"/>
<text x="168.00" y="279.74" font-size="9" text-anchor="end" font-weight="normal" font-style="normal" fill="#1c1c1c" >0</text>
<line x1="171.30" y1="244.16" x2="174.70" y2="244.16" stroke="#3a3a3a" stroke-width="0.9"/>
<text x="168.00" y="247.41" font-size="9" text-anchor="end" font-weight="normal" font-style="normal" fill="#1c1c1c" >5</text>
<line x1="171.30" y1="211.83" x2="174.70" y2="211.83" stroke="#3a3a3a" stroke-width="0.9"/>
<text x="168.00" y="215.07" font-size="9" text-anchor="end" font-weight="normal" font-style="normal" fill="#1c1c1c" >10</text>
<line x1="171.30" y1="179.50" x2="174.70" y2="179.50" stroke="#3a3a3a" stroke-width="0.9"/>
<text x="168.00" y="182.74" font-size="9" text-anchor="end" font-weight="normal" font-style="normal" fill="#1c1c1c" >15</text>
<line x1="174.10" y1="276.50" x2="245.70" y2="276.50" stroke="#1a1a1a" stroke-width="1.2"/>
<rect x="180.80" y="259.00" width="9.40" height="17.50" fill="#cc0a2e"/>
<rect x="197.30" y="251.10" width="9.60" height="25.40" fill="#1b4d8d"/>
<rect x="213.30" y="224.30" width="10.20" height="52.20" fill="#cc0a2e"/>
<rect x="230.20" y="225.00" width="9.80" height="51.50" fill="#1b4d8d"/>
<circle cx="181.20" cy="255.10" r="1.45" fill="#fff" stroke="#151515" stroke-width="1.05"/>
<circle cx="189.80" cy="255.10" r="1.45" fill="#fff" stroke="#151515" stroke-width="1.05"/>
<circle cx="185.50" cy="265.00" r="1.1" fill="#151515"/>
<circle cx="201.90" cy="245.10" r="1.1" fill="#151515"/>
<circle cx="197.60" cy="248.70" r="1.1" fill="#151515"/>
<circle cx="206.10" cy="249.10" r="1.1" fill="#151515"/>
<circle cx="201.90" cy="258.20" r="1.1" fill="#151515"/>
<circle cx="214.20" cy="213.40" r="1.45" fill="#fff" stroke="#151515" stroke-width="1.05"/>
<circle cx="222.00" cy="212.20" r="1.45" fill="#fff" stroke="#151515" stroke-width="1.05"/>
<circle cx="214.20" cy="220.70" r="1.45" fill="#fff" stroke="#151515" stroke-width="1.05"/>
<circle cx="222.00" cy="218.60" r="1.45" fill="#fff" stroke="#151515" stroke-width="1.05"/>
<circle cx="214.20" cy="224.30" r="1.45" fill="#fff" stroke="#151515" stroke-width="1.05"/>
<circle cx="222.70" cy="223.80" r="1.45" fill="#fff" stroke="#151515" stroke-width="1.05"/>
<circle cx="214.20" cy="235.60" r="1.45" fill="none" stroke="#151515" stroke-width="1.0"/>
<circle cx="222.00" cy="233.50" r="1.45" fill="none" stroke="#151515" stroke-width="1.0"/>
<circle cx="234.90" cy="201.40" r="1.1" fill="#151515"/>
<circle cx="230.70" cy="206.70" r="1.1" fill="#151515"/>
<circle cx="238.90" cy="207.50" r="1.1" fill="#151515"/>
<circle cx="234.90" cy="209.40" r="1.1" fill="#151515"/>
<circle cx="235.00" cy="259.60" r="1.1" fill="#151515"/>
<circle cx="235.00" cy="263.60" r="1.1" fill="#151515"/>
<line x1="185.50" y1="262.10" x2="185.50" y2="255.90" stroke="#1a1a1a" stroke-width="0.9"/>
<line x1="183.10" y1="255.90" x2="187.90" y2="255.90" stroke="#1a1a1a" stroke-width="0.9"/>
<line x1="183.10" y1="262.10" x2="187.90" y2="262.10" stroke="#1a1a1a" stroke-width="0.8"/>
<line x1="202.10" y1="254.50" x2="202.10" y2="247.70" stroke="#1a1a1a" stroke-width="0.9"/>
<line x1="199.70" y1="247.70" x2="204.50" y2="247.70" stroke="#1a1a1a" stroke-width="0.9"/>
<line x1="199.70" y1="254.50" x2="204.50" y2="254.50" stroke="#1a1a1a" stroke-width="0.8"/>
<line x1="218.40" y1="226.40" x2="218.40" y2="222.20" stroke="#1a1a1a" stroke-width="0.9"/>
<line x1="216.00" y1="222.20" x2="220.80" y2="222.20" stroke="#1a1a1a" stroke-width="0.9"/>
<line x1="216.00" y1="226.40" x2="220.80" y2="226.40" stroke="#1a1a1a" stroke-width="0.8"/>
<line x1="235.10" y1="234.90" x2="235.10" y2="215.10" stroke="#1a1a1a" stroke-width="0.9"/>
<line x1="232.70" y1="215.10" x2="237.50" y2="215.10" stroke="#1a1a1a" stroke-width="0.9"/>
<line x1="232.70" y1="234.90" x2="237.50" y2="234.90" stroke="#1a1a1a" stroke-width="0.8"/>
<line x1="204.00" y1="181.50" x2="235.80" y2="181.50" stroke="#333333" stroke-width="1.0"/>
<line x1="204.00" y1="178.80" x2="204.00" y2="184.20" stroke="#333333" stroke-width="1.0"/>
<line x1="235.80" y1="178.80" x2="235.80" y2="184.20" stroke="#333333" stroke-width="1.0"/>
<text x="219.35" y="179.40" font-size="7.2" text-anchor="middle" font-weight="normal" font-style="normal" fill="#1c1c1c" textLength="8.0" lengthAdjust="spacingAndGlyphs" style="stroke-width:0.25px">ns</text>
<line x1="217.20" y1="194.50" x2="235.80" y2="194.50" stroke="#333333" stroke-width="1.0"/>
<line x1="217.20" y1="191.60" x2="217.20" y2="197.00" stroke="#333333" stroke-width="1.0"/>
<line x1="235.80" y1="191.60" x2="235.80" y2="197.00" stroke="#333333" stroke-width="1.0"/>
<text x="226.20" y="192.60" font-size="7.2" text-anchor="middle" font-weight="normal" font-style="normal" fill="#1c1c1c" textLength="8.0" lengthAdjust="spacingAndGlyphs" style="stroke-width:0.25px">ns</text>
<line x1="185.60" y1="204.50" x2="217.70" y2="204.50" stroke="#333333" stroke-width="1.0"/>
<line x1="185.60" y1="201.65" x2="185.60" y2="207.05" stroke="#333333" stroke-width="1.0"/>
<line x1="217.70" y1="201.65" x2="217.70" y2="207.05" stroke="#333333" stroke-width="1.0"/>
<circle cx="198.45" cy="200.35" r="1.08" fill="#1c1c1c"/>
<circle cx="201.60" cy="200.35" r="1.08" fill="#1c1c1c"/>
<circle cx="204.75" cy="200.35" r="1.08" fill="#1c1c1c"/>
<line x1="185.60" y1="218.50" x2="205.00" y2="218.50" stroke="#333333" stroke-width="1.0"/>
<line x1="185.60" y1="215.50" x2="185.60" y2="220.90" stroke="#333333" stroke-width="1.0"/>
<line x1="205.00" y1="215.50" x2="205.00" y2="220.90" stroke="#333333" stroke-width="1.0"/>
<text x="195.80" y="216.20" font-size="7.2" text-anchor="middle" font-weight="normal" font-style="normal" fill="#1c1c1c" textLength="8.0" lengthAdjust="spacingAndGlyphs" style="stroke-width:0.25px">ns</text>
<line x1="214.40" y1="281.50" x2="242.30" y2="281.50" stroke="#333333" stroke-width="1.0"/>
<line x1="214.40" y1="278.80" x2="214.40" y2="284.20" stroke="#333333" stroke-width="1.0"/>
<line x1="242.30" y1="278.80" x2="242.30" y2="284.20" stroke="#333333" stroke-width="1.0"/>
<text x="228.70" y="292.90" font-size="8.9" text-anchor="middle" font-weight="normal" font-style="italic" fill="#1c1c1c" >E<tspan>μ</tspan>-myc</text>
<text x="0" y="0" font-size="9.2" font-weight="normal" style="stroke-width:0.35px" fill="#1c1c1c" textLength="42.60" lengthAdjust="spacingAndGlyphs" transform="translate(150.80,264.10) rotate(-90)">Lymphocytes</text>
<text x="0" y="0" font-size="9.2" font-weight="normal" style="stroke-width:0.35px" fill="#1c1c1c" textLength="33.90" lengthAdjust="spacingAndGlyphs" transform="translate(150.80,218.90) rotate(-90)">(×10<tspan dy="-3.2" font-size="6.4">3</tspan><tspan dy="3.2">/μL)</tspan></text>
<text x="263.70" y="167.00" font-size="12.5" text-anchor="start" font-weight="bold" font-style="normal" fill="#111" style="stroke:#111;stroke-width:0.4px">F</text>
<line x1="305.10" y1="178.30" x2="305.10" y2="278.90" stroke="#1a1a1a" stroke-width="1.2"/>
<line x1="301.70" y1="278.30" x2="305.10" y2="278.30" stroke="#3a3a3a" stroke-width="0.9"/>
<text x="298.40" y="281.54" font-size="9" text-anchor="end" font-weight="normal" font-style="normal" fill="#1c1c1c" >0.0</text>
<line x1="301.70" y1="254.22" x2="305.10" y2="254.22" stroke="#3a3a3a" stroke-width="0.9"/>
<text x="298.40" y="257.46" font-size="9" text-anchor="end" font-weight="normal" font-style="normal" fill="#1c1c1c" >0.2</text>
<line x1="301.70" y1="230.14" x2="305.10" y2="230.14" stroke="#3a3a3a" stroke-width="0.9"/>
<text x="298.40" y="233.38" font-size="9" text-anchor="end" font-weight="normal" font-style="normal" fill="#1c1c1c" >0.4</text>
<line x1="301.70" y1="206.06" x2="305.10" y2="206.06" stroke="#3a3a3a" stroke-width="0.9"/>
<text x="298.40" y="209.30" font-size="9" text-anchor="end" font-weight="normal" font-style="normal" fill="#1c1c1c" >0.6</text>
<line x1="301.70" y1="181.98" x2="305.10" y2="181.98" stroke="#3a3a3a" stroke-width="0.9"/>
<text x="298.40" y="185.22" font-size="9" text-anchor="end" font-weight="normal" font-style="normal" fill="#1c1c1c" >0.8</text>
<line x1="304.50" y1="278.30" x2="375.50" y2="278.30" stroke="#1a1a1a" stroke-width="1.2"/>
<rect x="310.60" y="267.80" width="10.00" height="10.50" fill="#cc0a2e"/>
<rect x="327.30" y="259.90" width="9.70" height="18.40" fill="#1b4d8d"/>
<rect x="343.20" y="251.60" width="10.20" height="26.70" fill="#cc0a2e"/>
<rect x="360.20" y="236.10" width="8.70" height="42.20" fill="#1b4d8d"/>
<circle cx="311.60" cy="265.50" r="1.45" fill="#fff" stroke="#151515" stroke-width="1.05"/>
<circle cx="315.80" cy="266.00" r="1.45" fill="#fff" stroke="#151515" stroke-width="1.05"/>
<circle cx="320.20" cy="265.80" r="1.45" fill="#fff" stroke="#151515" stroke-width="1.05"/>
<circle cx="313.50" cy="268.00" r="1.45" fill="none" stroke="#151515" stroke-width="1.0"/>
<circle cx="318.00" cy="268.00" r="1.45" fill="none" stroke="#151515" stroke-width="1.0"/>
<circle cx="331.70" cy="255.10" r="1.1" fill="#151515"/>
<circle cx="328.50" cy="258.50" r="1.1" fill="#151515"/>
<circle cx="335.80" cy="258.50" r="1.1" fill="#151515"/>
<circle cx="348.20" cy="232.90" r="1.45" fill="#fff" stroke="#151515" stroke-width="1.05"/>
<circle cx="344.20" cy="247.50" r="1.45" fill="#fff" stroke="#151515" stroke-width="1.05"/>
<circle cx="351.80" cy="246.50" r="1.45" fill="#fff" stroke="#151515" stroke-width="1.05"/>
<circle cx="348.00" cy="248.50" r="1.45" fill="#fff" stroke="#151515" stroke-width="1.05"/>
<circle cx="351.80" cy="250.90" r="1.45" fill="none" stroke="#151515" stroke-width="1.0"/>
<circle cx="344.20" cy="252.30" r="1.45" fill="none" stroke="#151515" stroke-width="1.0"/>
<circle cx="344.20" cy="257.20" r="1.45" fill="none" stroke="#151515" stroke-width="1.0"/>
<circle cx="344.20" cy="261.70" r="1.45" fill="none" stroke="#151515" stroke-width="1.0"/>
<circle cx="351.80" cy="259.20" r="1.45" fill="none" stroke="#151515" stroke-width="1.0"/>
<circle cx="360.90" cy="228.60" r="1.1" fill="#151515"/>
<circle cx="368.50" cy="230.70" r="1.1" fill="#151515"/>
<circle cx="360.70" cy="213.60" r="1.1" fill="#151515"/>
<circle cx="368.50" cy="212.90" r="1.1" fill="#151515"/>
<circle cx="368.50" cy="216.00" r="1.1" fill="#151515"/>
<circle cx="364.50" cy="251.60" r="1.1" fill="#151515"/>
<circle cx="364.50" cy="261.30" r="1.1" fill="#151515"/>
<circle cx="364.50" cy="265.50" r="1.1" fill="#151515"/>
<line x1="332.15" y1="261.90" x2="332.15" y2="257.90" stroke="#1a1a1a" stroke-width="0.9"/>
<line x1="329.75" y1="257.90" x2="334.55" y2="257.90" stroke="#1a1a1a" stroke-width="0.9"/>
<line x1="329.75" y1="261.90" x2="334.55" y2="261.90" stroke="#1a1a1a" stroke-width="0.8"/>
<line x1="348.30" y1="255.00" x2="348.30" y2="248.20" stroke="#1a1a1a" stroke-width="0.9"/>
<line x1="345.90" y1="248.20" x2="350.70" y2="248.20" stroke="#1a1a1a" stroke-width="0.9"/>
<line x1="345.90" y1="255.00" x2="350.70" y2="255.00" stroke="#1a1a1a" stroke-width="0.8"/>
<line x1="364.55" y1="244.30" x2="364.55" y2="227.90" stroke="#1a1a1a" stroke-width="0.9"/>
<line x1="362.15" y1="227.90" x2="366.95" y2="227.90" stroke="#1a1a1a" stroke-width="0.9"/>
<line x1="362.15" y1="244.30" x2="366.95" y2="244.30" stroke="#1a1a1a" stroke-width="0.8"/>
<line x1="334.00" y1="187.50" x2="365.80" y2="187.50" stroke="#333333" stroke-width="1.0"/>
<line x1="334.00" y1="185.10" x2="334.00" y2="190.50" stroke="#333333" stroke-width="1.0"/>
<line x1="365.80" y1="185.10" x2="365.80" y2="190.50" stroke="#333333" stroke-width="1.0"/>
<text x="349.60" y="185.90" font-size="7.2" text-anchor="middle" font-weight="normal" font-style="normal" fill="#1c1c1c" textLength="8.0" lengthAdjust="spacingAndGlyphs" style="stroke-width:0.25px">ns</text>
<line x1="347.20" y1="200.50" x2="365.80" y2="200.50" stroke="#333333" stroke-width="1.0"/>
<line x1="347.20" y1="197.60" x2="347.20" y2="203.00" stroke="#333333" stroke-width="1.0"/>
<line x1="365.80" y1="197.60" x2="365.80" y2="203.00" stroke="#333333" stroke-width="1.0"/>
<text x="356.30" y="198.60" font-size="7.2" text-anchor="middle" font-weight="normal" font-style="normal" fill="#1c1c1c" textLength="8.0" lengthAdjust="spacingAndGlyphs" style="stroke-width:0.25px">ns</text>
<line x1="316.50" y1="212.50" x2="348.00" y2="212.50" stroke="#333333" stroke-width="1.0"/>
<line x1="316.50" y1="209.60" x2="316.50" y2="215.00" stroke="#333333" stroke-width="1.0"/>
<line x1="348.00" y1="209.60" x2="348.00" y2="215.00" stroke="#333333" stroke-width="1.0"/>
<circle cx="330.62" cy="207.60" r="1.08" fill="#1c1c1c"/>
<circle cx="333.77" cy="207.60" r="1.08" fill="#1c1c1c"/>
<line x1="316.30" y1="224.50" x2="335.00" y2="224.50" stroke="#333333" stroke-width="1.0"/>
<line x1="316.30" y1="221.60" x2="316.30" y2="227.00" stroke="#333333" stroke-width="1.0"/>
<line x1="335.00" y1="221.60" x2="335.00" y2="227.00" stroke="#333333" stroke-width="1.0"/>
<circle cx="324.12" cy="220.70" r="1.08" fill="#1c1c1c"/>
<circle cx="327.27" cy="220.70" r="1.08" fill="#1c1c1c"/>
<line x1="344.40" y1="283.50" x2="371.90" y2="283.50" stroke="#333333" stroke-width="1.0"/>
<line x1="344.40" y1="280.70" x2="344.40" y2="286.10" stroke="#333333" stroke-width="1.0"/>
<line x1="371.90" y1="280.70" x2="371.90" y2="286.10" stroke="#333333" stroke-width="1.0"/>
<text x="358.50" y="294.00" font-size="8.9" text-anchor="middle" font-weight="normal" font-style="italic" fill="#1c1c1c" >E<tspan>μ</tspan>-myc</text>
<text x="0" y="0" font-size="9.2" font-weight="normal" style="stroke-width:0.35px" fill="#1c1c1c" textLength="45.60" lengthAdjust="spacingAndGlyphs" transform="translate(279.10,252.80) rotate(-90)">Spleen weight</text>
<text x="0" y="0" font-size="9.2" font-weight="normal" style="stroke-width:0.35px" fill="#1c1c1c" textLength="10.90" lengthAdjust="spacingAndGlyphs" transform="translate(279.10,205.90) rotate(-90)">(g)</text>
<text x="392.60" y="167.20" font-size="12.5" text-anchor="start" font-weight="bold" font-style="normal" fill="#111" style="stroke:#111;stroke-width:0.4px">G</text>
<line x1="450.20" y1="178.80" x2="450.20" y2="277.60" stroke="#1a1a1a" stroke-width="1.2"/>
<line x1="446.80" y1="277.00" x2="450.20" y2="277.00" stroke="#3a3a3a" stroke-width="0.9"/>
<text x="443.50" y="280.24" font-size="9" text-anchor="end" font-weight="normal" font-style="normal" fill="#1c1c1c" >0</text>
<line x1="446.80" y1="253.18" x2="450.20" y2="253.18" stroke="#3a3a3a" stroke-width="0.9"/>
<text x="443.50" y="256.42" font-size="9" text-anchor="end" font-weight="normal" font-style="normal" fill="#1c1c1c" >500</text>
<line x1="446.80" y1="229.35" x2="450.20" y2="229.35" stroke="#3a3a3a" stroke-width="0.9"/>
<text x="443.50" y="232.59" font-size="9" text-anchor="end" font-weight="normal" font-style="normal" fill="#1c1c1c" >1000</text>
<line x1="446.80" y1="205.53" x2="450.20" y2="205.53" stroke="#3a3a3a" stroke-width="0.9"/>
<text x="443.50" y="208.77" font-size="9" text-anchor="end" font-weight="normal" font-style="normal" fill="#1c1c1c" >1500</text>
<line x1="446.80" y1="181.70" x2="450.20" y2="181.70" stroke="#3a3a3a" stroke-width="0.9"/>
<text x="443.50" y="184.94" font-size="9" text-anchor="end" font-weight="normal" font-style="normal" fill="#1c1c1c" >2000</text>
<line x1="449.60" y1="277.00" x2="520.00" y2="277.00" stroke="#1a1a1a" stroke-width="1.2"/>
<rect x="455.90" y="215.10" width="9.90" height="61.90" fill="#cc0a2e"/>
<rect x="471.90" y="258.50" width="9.90" height="18.50" fill="#1b4d8d"/>
<rect x="488.00" y="257.80" width="10.10" height="19.20" fill="#cc0a2e"/>
<rect x="504.50" y="264.20" width="9.90" height="12.80" fill="#1b4d8d"/>
<circle cx="460.20" cy="206.60" r="1.45" fill="#fff" stroke="#151515" stroke-width="1.05"/>
<circle cx="456.80" cy="211.60" r="1.45" fill="#fff" stroke="#151515" stroke-width="1.05"/>
<circle cx="460.60" cy="211.00" r="1.45" fill="#fff" stroke="#151515" stroke-width="1.05"/>
<circle cx="464.60" cy="213.30" r="1.45" fill="#fff" stroke="#151515" stroke-width="1.05"/>
<circle cx="460.20" cy="225.70" r="1.1" fill="#151515"/>
<circle cx="473.30" cy="258.10" r="1.1" fill="#151515"/>
<circle cx="480.40" cy="258.10" r="1.1" fill="#151515"/>
<circle cx="476.80" cy="257.80" r="1.1" fill="#151515"/>
<circle cx="493.10" cy="243.40" r="1.45" fill="#fff" stroke="#151515" stroke-width="1.05"/>
<circle cx="488.90" cy="257.10" r="1.45" fill="#fff" stroke="#151515" stroke-width="1.05"/>
<circle cx="492.40" cy="256.40" r="1.45" fill="#fff" stroke="#151515" stroke-width="1.05"/>
<circle cx="496.70" cy="255.70" r="1.45" fill="#fff" stroke="#151515" stroke-width="1.05"/>
<circle cx="497.60" cy="259.20" r="1.45" fill="none" stroke="#151515" stroke-width="1.0"/>
<circle cx="492.40" cy="259.80" r="1.45" fill="none" stroke="#151515" stroke-width="1.0"/>
<circle cx="491.60" cy="266.60" r="1.45" fill="none" stroke="#151515" stroke-width="1.0"/>
<circle cx="494.60" cy="268.80" r="1.45" fill="none" stroke="#151515" stroke-width="1.0"/>
<circle cx="509.10" cy="251.40" r="1.1" fill="#151515"/>
<circle cx="505.40" cy="259.20" r="1.1" fill="#151515"/>
<circle cx="512.90" cy="261.30" r="1.1" fill="#151515"/>
<circle cx="509.10" cy="267.70" r="1.1" fill="#151515"/>
<line x1="460.85" y1="220.10" x2="460.85" y2="210.10" stroke="#1a1a1a" stroke-width="0.9"/>
<line x1="458.45" y1="210.10" x2="463.25" y2="210.10" stroke="#1a1a1a" stroke-width="0.9"/>
<line x1="458.45" y1="220.10" x2="463.25" y2="220.10" stroke="#1a1a1a" stroke-width="0.8"/>
<line x1="476.85" y1="259.80" x2="476.85" y2="257.20" stroke="#1a1a1a" stroke-width="0.9"/>
<line x1="474.45" y1="257.20" x2="479.25" y2="257.20" stroke="#1a1a1a" stroke-width="0.9"/>
<line x1="474.45" y1="259.80" x2="479.25" y2="259.80" stroke="#1a1a1a" stroke-width="0.8"/>
<line x1="493.05" y1="260.10" x2="493.05" y2="255.50" stroke="#1a1a1a" stroke-width="0.9"/>
<line x1="490.65" y1="255.50" x2="495.45" y2="255.50" stroke="#1a1a1a" stroke-width="0.9"/>
<line x1="490.65" y1="260.10" x2="495.45" y2="260.10" stroke="#1a1a1a" stroke-width="0.8"/>
<line x1="509.45" y1="267.10" x2="509.45" y2="261.30" stroke="#1a1a1a" stroke-width="0.9"/>
<line x1="507.05" y1="261.30" x2="511.85" y2="261.30" stroke="#1a1a1a" stroke-width="0.9"/>
<line x1="507.05" y1="267.10" x2="511.85" y2="267.10" stroke="#1a1a1a" stroke-width="0.8"/>
<line x1="461.20" y1="193.50" x2="492.50" y2="193.50" stroke="#333333" stroke-width="1.0"/>
<line x1="461.20" y1="190.60" x2="461.20" y2="196.00" stroke="#333333" stroke-width="1.0"/>
<line x1="492.50" y1="190.60" x2="492.50" y2="196.00" stroke="#333333" stroke-width="1.0"/>
<circle cx="474.05" cy="190.80" r="1.08" fill="#1c1c1c"/>
<circle cx="477.20" cy="190.80" r="1.08" fill="#1c1c1c"/>
<circle cx="480.35" cy="190.80" r="1.08" fill="#1c1c1c"/>
<line x1="461.20" y1="202.50" x2="479.40" y2="202.50" stroke="#333333" stroke-width="1.0"/>
<line x1="461.20" y1="199.80" x2="461.20" y2="205.20" stroke="#333333" stroke-width="1.0"/>
<line x1="479.40" y1="199.80" x2="479.40" y2="205.20" stroke="#333333" stroke-width="1.0"/>
<circle cx="468.35" cy="200.10" r="1.08" fill="#1c1c1c"/>
<circle cx="471.50" cy="200.10" r="1.08" fill="#1c1c1c"/>
<circle cx="474.65" cy="200.10" r="1.08" fill="#1c1c1c"/>
<line x1="478.70" y1="224.50" x2="510.30" y2="224.50" stroke="#333333" stroke-width="1.0"/>
<line x1="478.70" y1="221.40" x2="478.70" y2="226.80" stroke="#333333" stroke-width="1.0"/>
<line x1="510.30" y1="221.40" x2="510.30" y2="226.80" stroke="#333333" stroke-width="1.0"/>
<text x="494.05" y="221.40" font-size="7.2" text-anchor="middle" font-weight="normal" font-style="normal" fill="#1c1c1c" textLength="8.0" lengthAdjust="spacingAndGlyphs" style="stroke-width:0.25px">ns</text>
<line x1="491.70" y1="234.50" x2="510.30" y2="234.50" stroke="#333333" stroke-width="1.0"/>
<line x1="491.70" y1="231.90" x2="491.70" y2="237.30" stroke="#333333" stroke-width="1.0"/>
<line x1="510.30" y1="231.90" x2="510.30" y2="237.30" stroke="#333333" stroke-width="1.0"/>
<text x="500.90" y="232.60" font-size="7.2" text-anchor="middle" font-weight="normal" font-style="normal" fill="#1c1c1c" textLength="8.0" lengthAdjust="spacingAndGlyphs" style="stroke-width:0.25px">ns</text>
<line x1="489.40" y1="282.50" x2="516.40" y2="282.50" stroke="#333333" stroke-width="1.0"/>
<line x1="489.40" y1="279.30" x2="489.40" y2="284.70" stroke="#333333" stroke-width="1.0"/>
<line x1="516.40" y1="279.30" x2="516.40" y2="284.70" stroke="#333333" stroke-width="1.0"/>
<text x="503.20" y="293.90" font-size="8.9" text-anchor="middle" font-weight="normal" font-style="italic" fill="#1c1c1c" >E<tspan>μ</tspan>-myc</text>
<text x="0" y="0" font-size="9.2" font-weight="normal" style="stroke-width:0.35px" fill="#1c1c1c" textLength="27.20" lengthAdjust="spacingAndGlyphs" transform="translate(415.80,256.20) rotate(-90)">Platelets</text>
<text x="0" y="0" font-size="9.2" font-weight="normal" style="stroke-width:0.35px" fill="#1c1c1c" textLength="34.40" lengthAdjust="spacingAndGlyphs" transform="translate(415.80,225.40) rotate(-90)">(×10<tspan dy="-3.2" font-size="6.4">3</tspan><tspan dy="3.2">/μL)</tspan></text>
<circle cx="376.70" cy="53.90" r="1.45" fill="#fff" stroke="#151515" stroke-width="1.05"/>
<text x="388.00" y="56.60" font-size="8" text-anchor="start" font-weight="normal" font-style="normal" fill="#1c1c1c" >untransplanted</text>
<circle cx="377.00" cy="67.60" r="1.1" fill="#151515"/>
<text x="388.00" y="70.10" font-size="8" text-anchor="start" font-weight="normal" font-style="normal" fill="#1c1c1c" >Eμ-<tspan font-style="italic">myc</tspan></text>
<path d="M375.05,90.75 L378.15,90.75 L376.60,88.05 Z" fill="#fff" stroke="#151515" stroke-width="1.0" stroke-linejoin="round"/>
<text x="388.00" y="86.80" font-size="8" text-anchor="start" font-weight="normal" font-style="normal" fill="#1c1c1c" >Eμ-<tspan font-style="italic">myc</tspan></text>
<text x="388.00" y="96.30" font-size="8" text-anchor="start" font-weight="normal" font-style="normal" fill="#1c1c1c" >+ APS Day 0</text>
<path d="M375.00,111.05 L378.20,111.05 L376.60,113.80 Z" fill="#151515"/>
<text x="388.00" y="110.40" font-size="8" text-anchor="start" font-weight="normal" font-style="normal" fill="#1c1c1c" >Eμ-<tspan font-style="italic">myc</tspan></text>
<text x="388.00" y="120.00" font-size="8" text-anchor="start" font-weight="normal" font-style="normal" fill="#1c1c1c" >+ APS Day 0, 3, 6</text>
<circle cx="456.20" cy="166.70" r="1.45" fill="#fff" stroke="#151515" stroke-width="1.05"/>
<text x="462.60" y="169.60" font-size="8.4" text-anchor="start" font-weight="normal" font-style="normal" fill="#1c1c1c" >WT</text>
<circle cx="456.70" cy="177.50" r="1.1" fill="#151515"/>
<text x="462.80" y="181.20" font-size="8.2" text-anchor="start" font-weight="normal" font-style="normal" fill="#1c1c1c" ><tspan font-style="italic">Bcl-x</tspan><tspan font-size="6.0" dy="-2.3">Plt20/Plt20</tspan></text>
</svg></body></html>
